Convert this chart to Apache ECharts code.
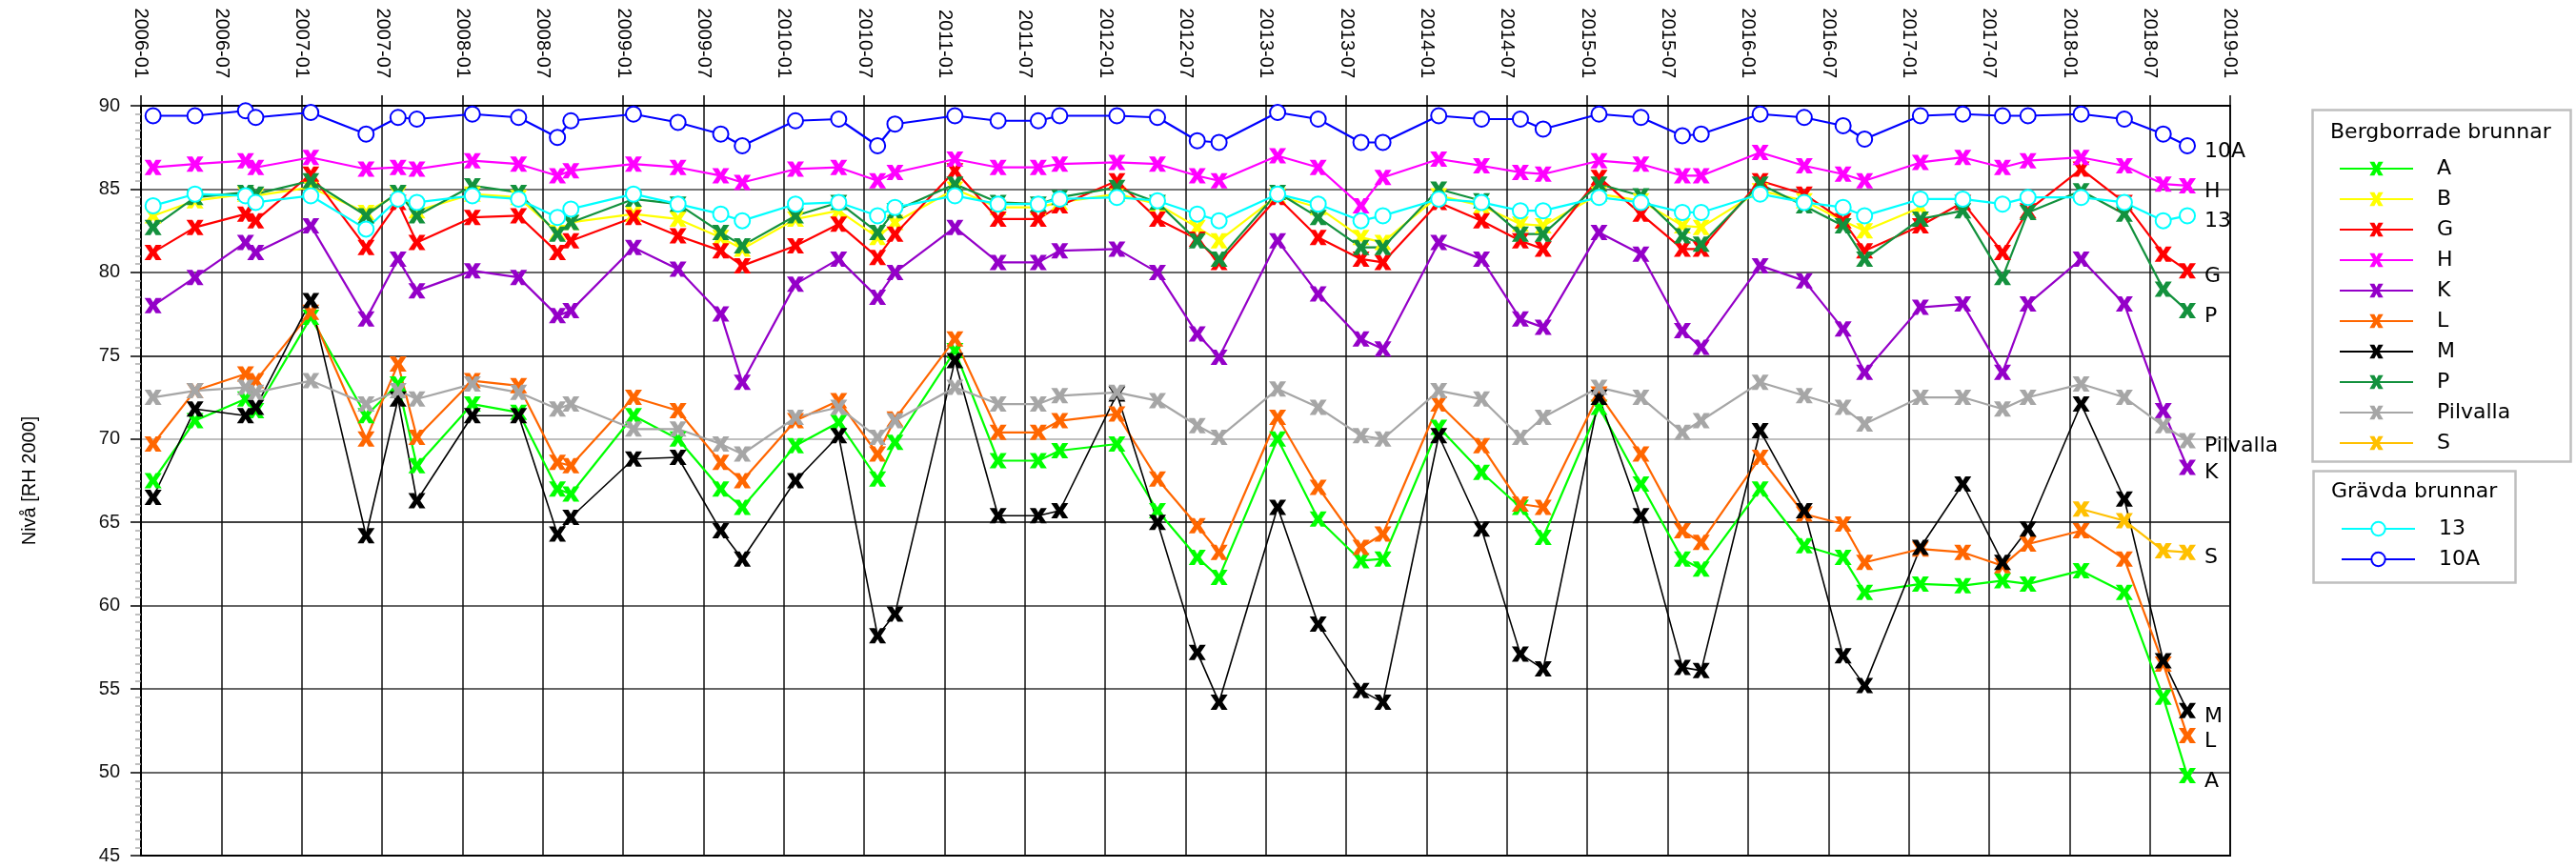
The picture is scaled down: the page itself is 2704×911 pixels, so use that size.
<!DOCTYPE html>
<html>
<head>
<meta charset="utf-8">
<script src="https://cdn.jsdelivr.net/npm/echarts@6/dist/echarts.min.js"></script>
<style>
  html, body { margin: 0; padding: 0; background: #fff; }
  #chart { width: 2704px; height: 911px; }
</style>
</head>
<body>
<div id="chart"></div>
<script>
// mätdatum (4 per år)
const dates = [
  '2006-01-29', '2006-05-02', '2006-08-26', '2006-09-18',
  '2007-01-22', '2007-05-26', '2007-08-07', '2007-09-19',
  '2008-01-24', '2008-05-07', '2008-08-04', '2008-09-04',
  '2009-01-25', '2009-05-04', '2009-08-10', '2009-09-28',
  '2010-01-28', '2010-05-04', '2010-08-01', '2010-09-10',
  '2011-01-25', '2011-05-01', '2011-08-01', '2011-09-19',
  '2012-01-28', '2012-04-28', '2012-07-28', '2012-09-16',
  '2013-01-28', '2013-04-28', '2013-08-04', '2013-09-23',
  '2014-01-29', '2014-05-04', '2014-08-01', '2014-09-22',
  '2015-01-28', '2015-05-01', '2015-08-04', '2015-09-16',
  '2016-01-29', '2016-05-07', '2016-08-04', '2016-09-22',
  '2017-01-28', '2017-05-02', '2017-08-01', '2017-09-28',
  '2018-01-28', '2018-05-04', '2018-08-01', '2018-09-25'
];

// bergborrade brunnar
const valA = [
  67.5, 71.1, 72.4, 71.7,  77.3, 71.4, 73.3, 68.4,  72.1, 71.6, 67.0, 66.7,
  71.4, 70.0, 67.0, 65.9,  69.6, 71.0, 67.6, 69.8,  75.3, 68.7, 68.7, 69.3,
  69.7, 65.7, 62.9, 61.7,  70.0, 65.2, 62.7, 62.8,  70.7, 68.0, 65.9, 64.1,
  71.9, 67.3, 62.8, 62.2,  67.0, 63.6, 62.9, 60.8,  61.3, 61.2, 61.5, 61.3,
  62.1, 60.8, 54.5, 49.8
];
const valB = [
  83.4, 84.3, 84.7, 84.6,  85.1, 83.6, 84.7, 83.7,  84.7, 84.5, 82.4, 83.0,
  83.5, 83.2, 82.1, 81.4,  83.2, 83.7, 82.1, 83.0,  85.0, 83.9, 83.9, 84.2,
  84.7, 84.1, 82.7, 81.9,  84.6, 83.9, 82.1, 81.8,  84.6, 84.0, 82.9, 82.8,
  84.7, 84.3, 82.8, 82.7,  84.9, 84.3, 83.1, 82.5,  83.9, null, null, null,
  null, null, null, null
];
const valG = [
  81.2, 82.7, 83.5, 83.1,  85.9, 81.5, 84.2, 81.8,  83.3, 83.4, 81.2, 81.9,
  83.3, 82.2, 81.3, 80.4,  81.6, 82.9, 80.9, 82.3,  86.1, 83.2, 83.2, 84.0,
  85.5, 83.2, 82.0, 80.6,  84.5, 82.1, 80.8, 80.6,  84.2, 83.1, 81.9, 81.4,
  85.7, 83.5, 81.4, 81.4,  85.5, 84.7, 83.1, 81.3,  82.8, 84.2, 81.2, 83.7,
  86.2, 84.2, 81.1, 80.1
];
const valH = [
  86.3, 86.5, 86.7, 86.3,  86.9, 86.2, 86.3, 86.2,  86.7, 86.5, 85.8, 86.1,
  86.5, 86.3, 85.8, 85.4,  86.2, 86.3, 85.5, 86.0,  86.8, 86.3, 86.3, 86.5,
  86.6, 86.5, 85.8, 85.5,  87.0, 86.3, 84.0, 85.7,  86.8, 86.4, 86.0, 85.9,
  86.7, 86.5, 85.8, 85.8,  87.2, 86.4, 85.9, 85.5,  86.6, 86.9, 86.3, 86.7,
  86.9, 86.4, 85.3, 85.2
];
const valK = [
  78.0, 79.7, 81.8, 81.2,  82.8, 77.2, 80.8, 78.9,  80.1, 79.7, 77.4, 77.7,
  81.5, 80.2, 77.5, 73.4,  79.3, 80.8, 78.5, 80.0,  82.7, 80.6, 80.6, 81.3,
  81.4, 80.0, 76.3, 74.9,  81.9, 78.7, 76.0, 75.4,  81.8, 80.8, 77.2, 76.7,
  82.4, 81.1, 76.5, 75.5,  80.4, 79.5, 76.6, 74.0,  77.9, 78.1, 74.0, 78.1,
  80.8, 78.1, 71.7, 68.3
];
const valL = [
  69.7, 72.9, 73.9, 73.5,  77.6, 70.0, 74.5, 70.1,  73.5, 73.2, 68.6, 68.4,
  72.5, 71.7, 68.6, 67.5,  71.1, 72.3, 69.1, 71.2,  76.0, 70.4, 70.4, 71.1,
  71.5, 67.6, 64.8, 63.2,  71.3, 67.1, 63.5, 64.3,  72.1, 69.6, 66.1, 65.9,
  72.7, 69.1, 64.5, 63.8,  68.9, 65.5, 64.9, 62.6,  63.4, 63.2, 62.4, 63.7,
  64.5, 62.8, 56.5, 52.2
];
const valM = [
  66.5, 71.8, 71.4, 71.9,  78.3, 64.2, 72.4, 66.3,  71.4, 71.4, 64.3, 65.3,
  68.8, 68.9, 64.5, 62.8,  67.5, 70.2, 58.2, 59.5,  74.7, 65.4, 65.4, 65.7,
  72.7, 65.0, 57.2, 54.2,  65.9, 58.9, 54.9, 54.2,  70.2, 64.6, 57.1, 56.2,
  72.5, 65.4, 56.3, 56.1,  70.5, 65.7, 57.0, 55.2,  63.5, 67.3, 62.6, 64.6,
  72.1, 66.4, 56.7, 53.7
];
const valP = [
  82.7, 84.5, 84.8, 84.7,  85.5, 83.4, 84.8, 83.4,  85.2, 84.8, 82.3, 83.0,
  84.4, 84.1, 82.4, 81.6,  83.4, 84.2, 82.4, 83.7,  85.3, 84.2, 84.1, 84.5,
  85.1, 84.2, 81.9, 80.8,  84.8, 83.3, 81.5, 81.5,  85.0, 84.3, 82.3, 82.3,
  85.3, 84.6, 82.2, 81.7,  85.3, 84.0, 82.8, 80.8,  83.2, 83.7, 79.7, 83.6,
  84.9, 83.5, 79.0, 77.7
];
const valPilvalla = [
  72.5, 72.9, 73.1, 72.8,  73.5, 72.1, 72.9, 72.4,  73.3, 72.8, 71.8, 72.1,
  70.6, 70.6, 69.7, 69.1,  71.3, 71.9, 70.1, 71.1,  73.1, 72.1, 72.1, 72.6,
  72.8, 72.3, 70.8, 70.1,  73.0, 71.9, 70.2, 70.0,  72.9, 72.4, 70.1, 71.3,
  73.1, 72.5, 70.4, 71.1,  73.4, 72.6, 71.9, 70.9,  72.5, 72.5, 71.8, 72.5,
  73.3, 72.5, 70.8, 69.9
];
const valS = [
  null, null, null, null,  null, null, null, null,  null, null, null, null,
  null, null, null, null,  null, null, null, null,  null, null, null, null,
  null, null, null, null,  null, null, null, null,  null, null, null, null,
  null, null, null, null,  null, null, null, null,  null, null, null, null,
  65.8, 65.1, 63.3, 63.2
];

// grävda brunnar
const val13 = [
  84.0, 84.7, 84.6, 84.2,  84.6, 82.6, 84.4, 84.2,  84.6, 84.4, 83.3, 83.8,
  84.7, 84.1, 83.5, 83.1,  84.1, 84.2, 83.4, 83.9,  84.6, 84.1, 84.1, 84.4,
  84.5, 84.3, 83.5, 83.1,  84.7, 84.1, 83.1, 83.4,  84.4, 84.2, 83.7, 83.7,
  84.5, 84.2, 83.6, 83.6,  84.7, 84.2, 83.9, 83.4,  84.4, 84.4, 84.1, 84.5,
  84.5, 84.2, 83.1, 83.4
];
const val10A = [
  89.4, 89.4, 89.7, 89.3,  89.6, 88.3, 89.3, 89.2,  89.5, 89.3, 88.1, 89.1,
  89.5, 89.0, 88.3, 87.6,  89.1, 89.2, 87.6, 88.9,  89.4, 89.1, 89.1, 89.4,
  89.4, 89.3, 87.9, 87.8,  89.6, 89.2, 87.8, 87.8,  89.4, 89.2, 89.2, 88.6,
  89.5, 89.3, 88.2, 88.3,  89.5, 89.3, 88.8, 88.0,  89.4, 89.5, 89.4, 89.4,
  89.5, 89.2, 88.3, 87.6
];

const rockWells = ['A', 'B', 'G', 'H', 'K', 'L', 'M', 'P', 'Pilvalla', 'S'];
const dugWells = ['13', '10A'];

// x-axeln räknas i månader från 2006-01
const monthIndex = (d) => {
  const [y, m, day] = d.split('-').map(Number);
  const dim = new Date(y, m, 0).getDate();
  return (y - 2006) * 12 + (m - 1) + (day - 1) / dim;
};
const xs = dates.map(monthIndex);
const pairs = (vals) => xs.map((x, i) => [x, vals[i]]).filter((p) => p[1] != null);

const crossPath = 'path://M0,0L7,0L10,4.5L13,0L20,0L14,8L20,16L13,16L10,11.5L7,16L0,16L6,8Z';
const labelFont = 'DejaVu Sans';
const axisFont = 'Liberation Sans';

function makeSeries(name, vals, color, hollow, withLabel, width) {
  return {
    name: name,
    type: 'line',
    data: pairs(vals),
    symbol: hollow ? 'emptyCircle' : crossPath,
    symbolSize: hollow ? 16 : [18, 16],
    lineStyle: { color: color, width: width },
    itemStyle: hollow ? { color: color, borderWidth: 3.2 } : { color: color, borderWidth: 0 },
    emphasis: { disabled: true },
    endLabel: {
      show: withLabel,
      formatter: '{a}',
      distance: 18,
      offset: [0, 6],
      fontFamily: labelFont,
      fontSize: 22,
      color: '#000'
    }
  };
}

const series = [
  makeSeries('A', valA, '#00ff00', false, true, 2.2),
  makeSeries('B', valB, '#ffff00', false, false, 2.2),
  makeSeries('G', valG, '#ff0000', false, true, 2.2),
  makeSeries('H', valH, '#ff00ff', false, true, 2.2),
  makeSeries('K', valK, '#9400c8', false, true, 2.2),
  makeSeries('L', valL, '#ff6600', false, true, 2.2),
  makeSeries('M', valM, '#000000', false, true, 1.6),
  makeSeries('P', valP, '#13913d', false, true, 2.2),
  makeSeries('Pilvalla', valPilvalla, '#a6a6a6', false, true, 2.2),
  makeSeries('S', valS, '#ffc000', false, true, 2.2),
  makeSeries('13', val13, '#00ffff', true, true, 2.2),
  makeSeries('10A', val10A, '#0000ff', true, true, 2.2)
];

const chart = echarts.init(document.getElementById('chart'));
// radavstånd ~31.4 px i förklaringen
const legendBase = {
  orient: 'vertical',
  itemWidth: 77,
  itemHeight: 18,
  itemGap: 10,
  selectedMode: false,
  textStyle: {
    fontFamily: labelFont, fontSize: 22, color: '#000',
    padding: [0, 0, 0, 20]
  }
};

chart.setOption({
  animation: false,
  backgroundColor: '#fff',
  grid: {
    left: 148, right: 363, top: 111, bottom: 13,
    show: true, borderColor: '#000', borderWidth: 2
  },
  xAxis: {
    type: 'value',
    position: 'top',
    min: 0, max: 156, interval: 6,
    axisLine: { show: true, lineStyle: { color: '#000', width: 2 } },
    axisTick: { show: true, length: 11, lineStyle: { color: '#000', width: 1.5 } },
    axisLabel: {
      rotate: 90,
      margin: 29,
      fontFamily: axisFont,
      fontSize: 20,
      color: '#000',
      formatter: (v) => (2006 + Math.floor(v / 12)) + '-' + String(v % 12 + 1).padStart(2, '0')
    },
    splitLine: { show: true, lineStyle: { color: '#111', width: 1.5 } }
  },
  yAxis: {
    type: 'value',
    min: 45, max: 90, interval: 5,
    name: 'Nivå [RH 2000]',
    nameLocation: 'middle',
    nameGap: 107,
    nameTextStyle: { fontFamily: axisFont, fontSize: 20, color: '#000' },
    axisLine: { show: true, lineStyle: { color: '#000', width: 2 } },
    axisTick: { show: true, length: 11, lineStyle: { color: '#000', width: 1.5 } },
    minorTick: { show: true, splitNumber: 10, length: 6, lineStyle: { color: '#aaa', width: 1.5 } },
    axisLabel: { margin: 22, fontFamily: axisFont, fontSize: 20, color: '#111' },
    splitLine: {
      show: true,
      lineStyle: {
        color: ['#000', '#333', '#333', '#333', '#000', '#aaa', '#000', '#333', '#444', '#000'],
        width: 1.5
      }
    }
  },
  legend: [
    Object.assign({}, legendBase, { data: rockWells, left: 2450, top: 161 }),
    Object.assign({}, legendBase, { data: dugWells, left: 2452, top: 539 })
  ],
  graphic: [
    { type: 'rect', left: 2425, top: 113, shape: { width: 271, height: 369 },
      style: { fill: 'none', stroke: '#bfbfbf', lineWidth: 2.5 } },
    { type: 'text', left: 2446, top: 128,
      style: { text: 'Bergborrade brunnar', fontFamily: labelFont, fontSize: 22, fill: '#000' } },
    { type: 'rect', left: 2426, top: 492, shape: { width: 212, height: 117 },
      style: { fill: 'none', stroke: '#bfbfbf', lineWidth: 2.5 } },
    { type: 'text', left: 2447, top: 505,
      style: { text: 'Grävda brunnar', fontFamily: labelFont, fontSize: 22, fill: '#000' } }
  ],
  series: series
});
</script>
</body>
</html>
